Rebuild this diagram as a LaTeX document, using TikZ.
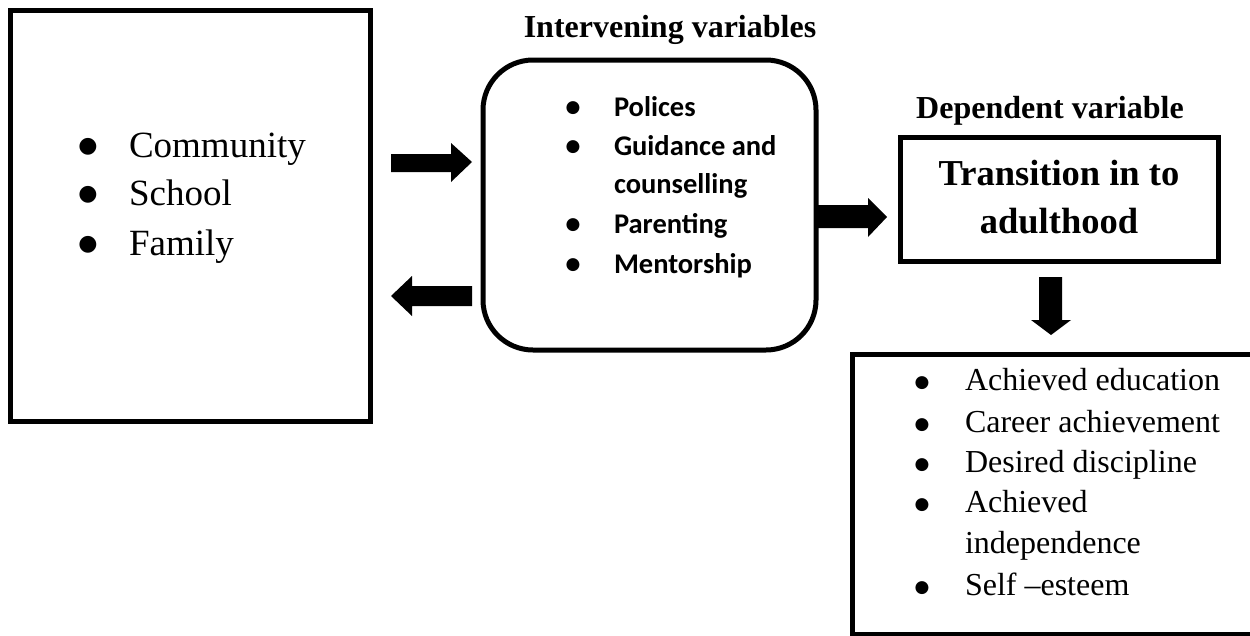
\documentclass[tikz,border=0pt]{standalone}
\usepackage{fontspec}
\setmainfont{Liberation Serif}
\newfontfamily\calib{Carlito}
\newfontfamily\dvs{DejaVu Sans}
\begin{document}
\begin{tikzpicture}[x=1pt,y=-1pt,
  txt/.style={anchor=base west,inner sep=0pt,outer sep=0pt},
  ttl/.style={anchor=base,inner sep=0pt,outer sep=0pt,font=\fontsize{32}{38}\selectfont\bfseries},
  boxline/.style={draw=black,line width=5pt},
  blockarrow/.style={fill=black},
  bul/.style={anchor=center,inner sep=0pt,outer sep=0pt}]
\useasboundingbox (0,0) rectangle (1250,635);
\clip (0,0) rectangle (1250,635);
% left box
\draw[boxline] (10,10) rectangle (370.5,421);
\foreach \y/\t/\n in {157/Community/l1,205/School/l2,255/Family/l3}{
  \node[bul,font=\fontsize{22}{24}\selectfont\dvs] (b\n) at (88,\y-10) {●};
  \node[txt,font=\fontsize{37}{44}\selectfont] (\n) at (129,\y) {\t};
}
% middle box
\node[ttl] (ttlm) at (670,37) {Intervening variables};
\draw[boxline,rounded corners=50pt] (483,60) rectangle (816,350);
\foreach \y/\t/\n/\b in {116/Polices/m1/1,155/Guidance and/m2/1,193/counselling/m3/0,233/Parenting/m4/1,273/Mentorship/m5/1}{
  \ifnum\b=1 \node[bul,font=\fontsize{17}{19}\selectfont\dvs] (b\n) at (573,\y-8) {●};\fi
  \node[txt,font=\fontsize{28.5}{34}\selectfont\calib\bfseries] (\n) at (614,\y) {\t};
}
% arrows between left and middle
\fill[blockarrow] (391,154) -- (451,154) -- (451,143) -- (472,162) -- (451,182) -- (451,172) -- (391,172) -- cycle;
\fill[blockarrow] (472,286) -- (412,286) -- (412,276) -- (391,296) -- (412,316) -- (412,306) -- (472,306) -- cycle;
% arrow to dependent
\fill[blockarrow] (818,205) -- (868,205) -- (868,198) -- (887,217) -- (868,237) -- (868,228) -- (818,228) -- cycle;
% dependent
\node[ttl] (ttld) at (1050,118) {Dependent variable};
\draw[boxline] (900,137.5) rectangle (1218,261);
\node[anchor=base,inner sep=0pt,font=\fontsize{36.5}{44}\selectfont\bfseries] (t1) at (1059,185) {Transition in to};
\node[anchor=base,inner sep=0pt,font=\fontsize{36.5}{44}\selectfont\bfseries] (t2) at (1059,233) {adulthood};
% down arrow
\fill[blockarrow] (1039,277) -- (1062,277) -- (1062,320) -- (1071,320) -- (1051,335) -- (1031,320) -- (1039,320) -- cycle;
% bottom box
\draw[boxline,line join=miter] (1260,354) -- (852,354) -- (852,634) -- (1260,634);
\foreach \y/\t/\n/\b in {390/Achieved education/r1/1,432/Career achievement/r2/1,472/Desired discipline/r3/1,512/Achieved/r4/1,553/independence/r5/0,595/Self –esteem/r6/1}{
  \ifnum\b=1 \node[bul,font=\fontsize{17}{19}\selectfont\dvs] (b\n) at (922,\y-6.5) {●};\fi
  \node[txt,font=\fontsize{32}{38}\selectfont] (\n) at (965,\y) {\t};
}
\end{tikzpicture}
\end{document}
